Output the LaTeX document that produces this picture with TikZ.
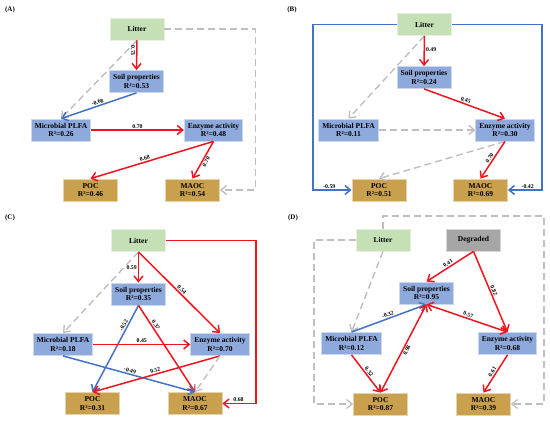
\documentclass[tikz,border=0pt]{standalone}
\usepackage{fontspec}
\setmainfont{Liberation Serif}
\usetikzlibrary{arrows.meta,positioning}
\definecolor{litgreen}{HTML}{C5E0B4}
\definecolor{varblue}{HTML}{8EA9DB}
\definecolor{socbrown}{HTML}{C8A04E}
\definecolor{deggray}{HTML}{A6A6A6}
\definecolor{effred}{HTML}{F0141E}
\definecolor{effblue}{HTML}{4472C4}
\definecolor{nsgray}{HTML}{BFBFBF}

\begin{document}
\begin{tikzpicture}[x=1pt,y=-1pt,
  cbox/.style={draw=#1!45!white,line width=0.8pt,fill=#1,minimum width=54pt,minimum height=22pt,
    inner xsep=3.5pt,inner ysep=2pt,align=center,font=\fontsize{7.5}{8.5}\selectfont\bfseries},
  parr/.style={draw=effred,line width=1.5pt,-{Straight Barb[length=5.5pt,width=9pt]}},
  narr/.style={draw=effblue,line width=1.5pt,-{Straight Barb[length=5.5pt,width=9pt]}},
  nsarr/.style={draw=nsgray,line width=1.4pt,dash pattern=on 7pt off 4pt,-{Straight Barb[length=5.5pt,width=9pt]}},
  dparr/.style={draw=effred,line width=1.5pt,{Straight Barb[length=5.5pt,width=9pt]}-{Straight Barb[length=5.5pt,width=9pt]}},
  lab/.style={font=\fontsize{5.8}{6}\selectfont\bfseries,inner sep=1pt},
  tag/.style={font=\fontsize{7}{7}\selectfont\bfseries}]
\useasboundingbox (0,0) rectangle (550,423);

% (A)
\node[tag] (tagA) at (10,10) {(A)};
\node[cbox=litgreen] (litA) at (137,29) {Litter};
\node[cbox=varblue] (soilA) at (136.5,81.5) {Soil properties\\R²=0.53};
\node[cbox=varblue] (plfaA) at (61,130) {Microbial PLFA\\R²=0.26};
\node[cbox=varblue] (enzA) at (213.5,130) {Enzyme activity\\R²=0.48};
\node[cbox=socbrown] (pocA) at (90.5,190) {POC\\R²=0.46};
\node[cbox=socbrown] (maocA) at (192.5,190) {MAOC\\R²=0.54};
\draw[nsarr] (litA.south) -- (plfaA.north);
\draw[nsarr] (litA.east) -- ++(91,0) |- (maocA.east);
\draw[parr] (litA.south) -- node[lab,rotate=-90,anchor=north,pos=.35]{0.73} (soilA.north);
\draw[narr] (soilA.south) -- node[lab,sloped,above]{-0.68} (plfaA.north);
\draw[parr] (plfaA) -- node[lab,above]{0.70} (enzA);
\draw[parr] (enzA.south) -- node[lab,sloped,above,pos=.55]{0.68} (pocA.north);
\draw[parr] (enzA.south) -- node[lab,sloped,below]{0.70} (maocA.north);

% (B)
\node[tag] (tagB) at (292,10) {(B)};
\node[cbox=litgreen] (litB) at (424.5,24.5) {Litter};
\node[cbox=varblue] (soilB) at (424,77.5) {Soil properties\\R²=0.24};
\node[cbox=varblue] (plfaB) at (348.5,130) {Microbial PLFA\\R²=0.11};
\node[cbox=varblue] (enzB) at (505,130) {Enzyme activity\\R²=0.30};
\node[cbox=socbrown] (pocB) at (379,190) {POC\\R²=0.51};
\node[cbox=socbrown] (maocB) at (480.5,190) {MAOC\\R²=0.69};
\draw[nsarr] (litB.south) -- (plfaB.north);
\draw[parr] (litB.south) -- node[lab,right,pos=.45]{0.49} (soilB.north);
\draw[parr] (soilB.south) -- node[lab,sloped,above]{0.45} (enzB.north);
\draw[nsarr] (plfaB) -- (enzB);
\draw[nsarr] (enzB.south) -- (pocB.north);
\draw[parr] (enzB.south) -- node[lab,sloped,above]{0.70} (maocB.north);
\draw[narr] (litB.west) -- ++(-84,0) |- node[lab,above,pos=.71]{-0.59} (pocB.west);
\draw[narr] (litB.east) -- ++(90,0) |- node[lab,above,pos=.71]{-0.42} (maocB.east);

% (C)
\node[tag] (tagC) at (10,218) {(C)};
\node[cbox=litgreen] (litC) at (138.5,240.5) {Litter};
\node[cbox=varblue] (soilC) at (138.5,294) {Soil properties\\R²=0.35};
\node[cbox=varblue] (plfaC) at (63,344.5) {Microbial PLFA\\R²=0.18};
\node[cbox=varblue] (enzC) at (220,344.5) {Enzyme activity\\R²=0.70};
\node[cbox=socbrown] (pocC) at (92.5,403.5) {POC\\R²=0.31};
\node[cbox=socbrown] (maocC) at (195,403.5) {MAOC\\R²=0.67};
\draw[nsarr] (litC.south) -- (plfaC.north);
\draw[parr] (litC.south) -- node[lab,left]{0.59} (soilC.north);
\draw[parr] (litC.south) -- node[lab,sloped,above]{0.54} (enzC.north);
\draw[parr] (litC.east) -- ++(90,0) |- node[lab,above,pos=.76]{0.68} (maocC.east);
\draw[narr] (soilC.south) -- node[lab,sloped,above,pos=.25]{-0.52} (pocC.north);
\draw[parr] (soilC.south) -- node[lab,sloped,above,pos=.25]{0.37} (maocC.north);
\draw[parr] (plfaC) -- node[lab,above]{0.45} (enzC);
\draw[narr] (plfaC.south) -- node[lab,sloped,above,pos=.5]{-0.49} (maocC.north);
\draw[parr] (enzC.south) -- node[lab,sloped,above,pos=.5]{0.52} (pocC.north);
\draw[nsarr] (enzC.south) -- (maocC.north);

% (D)
\node[tag] (tagD) at (293,218) {(D)};
\node[cbox=litgreen] (litD) at (383,240) {Litter};
\node[cbox=deggray] (degD) at (473.5,240) {Degraded};
\node[cbox=varblue] (soilD) at (426.5,293) {Soil properties\\R²=0.95};
\node[cbox=varblue] (plfaD) at (351.5,343.5) {Microbial PLFA\\R²=0.12};
\node[cbox=varblue] (enzD) at (507.5,343.5) {Enzyme activity\\R²=0.68};
\node[cbox=socbrown] (pocD) at (380.5,404) {POC\\R²=0.87};
\node[cbox=socbrown] (maocD) at (483.5,404) {MAOC\\R²=0.39};
\draw[nsarr] (litD.north) |- (544,216) |- (maocD.east);
\draw[nsarr] (litD.west) -- (314,240) |- (pocD.west);
\draw[nsarr] (litD.south) -- (plfaD.north);
\draw[parr] (degD.south) -- node[lab,sloped,above]{0.41} (soilD.north);
\draw[parr] (degD.south) -- node[lab,sloped,above]{0.82} (enzD.north);
\draw[narr] (plfaD.north) -- node[lab,sloped,above]{-0.32} (soilD.south);
\draw[dparr] (soilD.south) -- node[lab,sloped,above]{0.57} (enzD.north);
\draw[dparr] (soilD.south) -- node[lab,sloped,below]{0.98} (pocD.north);
\draw[parr] (plfaD.south) -- node[lab,sloped,above]{0.32} (pocD.north);
\draw[parr] (enzD.south) -- node[lab,sloped,above]{0.61} (maocD.north);
\end{tikzpicture}
\end{document}
